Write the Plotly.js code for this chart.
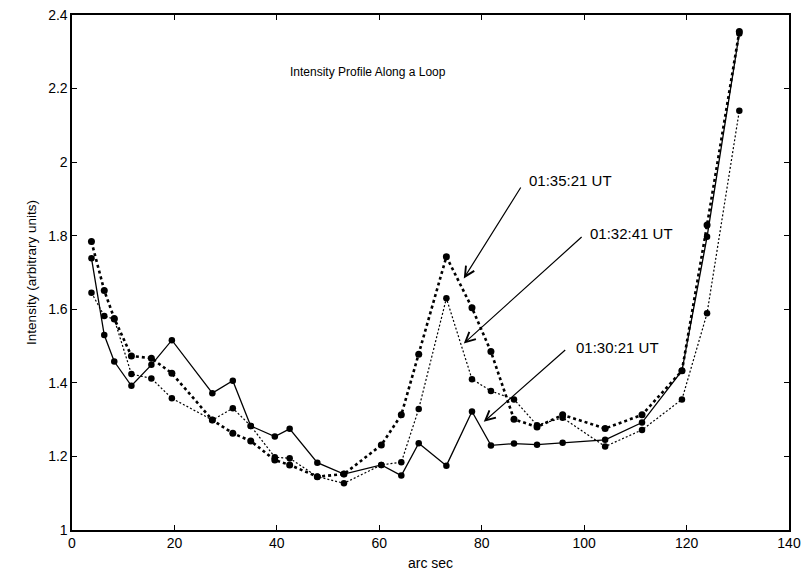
<!DOCTYPE html>
<html>
<head>
<meta charset="utf-8">
<script src="https://cdn.plot.ly/plotly-3.0.1.min.js"></script>
<style>html,body{margin:0;padding:0;background:#fff;}#chart{width:801px;height:579px;}</style>
</head>
<body>
<div id="chart"></div>
<script>
// arc-sec positions of samples
var arcSec = [3.8, 6.3, 8.25, 11.6, 15.5, 19.5, 27.4, 31.4, 34.9, 39.6, 42.5, 47.9, 53.1, 60.4, 64.3, 67.7, 73.1, 78.1, 81.8, 86.3, 90.8, 95.8, 104.1, 111.3, 119.1, 124.0, 130.3];
// 01:30:21 UT (solid)
var ut013021 = [1.739, 1.530, 1.458, 1.392, 1.449, 1.516, 1.372, 1.406, 1.283, 1.254, 1.275, 1.183, 1.152, 1.177, 1.148, 1.236, 1.175, 1.322, 1.230, 1.235, 1.232, 1.237, 1.245, 1.292, 1.433, 1.797, 2.350];
// 01:32:41 UT (fine dotted)
var ut013241 = [1.645, 1.582, 1.573, 1.424, 1.412, 1.358, 1.299, 1.331, 1.283, 1.198, 1.195, 1.145, 1.127, 1.177, 1.184, 1.329, 1.630, 1.410, 1.378, 1.355, 1.285, 1.305, 1.227, 1.272, 1.355, 1.589, 2.140];
// 01:35:21 UT (heavy dotted)
var ut013521 = [1.784, 1.651, 1.575, 1.473, 1.467, 1.426, 1.299, 1.263, 1.242, 1.190, 1.177, 1.145, 1.152, 1.231, 1.313, 1.478, 1.743, 1.604, 1.485, 1.301, 1.280, 1.313, 1.276, 1.313, 1.433, 1.829, 2.355];

var xTicks = [0, 20, 40, 60, 80, 100, 120, 140];
var yTicks = [1, 1.2, 1.4, 1.6, 1.8, 2, 2.2, 2.4];
var yTickText = ['1', '1.2', '1.4', '1.6', '1.8', '2', '2.2', '2.4'];

var labels = ['01:35:21 UT', '01:32:41 UT', '01:30:21 UT'];
// arrow head (x,y), tail (x,y), label left (x,y)
var arrowHeadX = [76.5, 76.5, 80.4];
var arrowHeadY = [1.684, 1.507, 1.294];
var arrowTailX = [87.8, 99.8, 96.6];
var arrowTailY = [1.935, 1.800, 1.493];
var labelX = [88.8, 100.8, 98.0];
var labelY = [1.950, 1.807, 1.497];

var FONT = 'Liberation Sans, Arial, Helvetica, sans-serif';

var traces = [
  {x: arcSec, y: ut013021, mode: 'lines+markers', name: '01:30:21 UT',
   line: {color: '#000', width: 1.3}, marker: {color: '#000', size: 6.5}},
  {x: arcSec, y: ut013241, mode: 'lines+markers', name: '01:32:41 UT',
   line: {color: '#000', width: 1.2, dash: '2px,2px'}, marker: {color: '#000', size: 6.5}},
  {x: arcSec, y: ut013521, mode: 'lines+markers', name: '01:35:21 UT',
   line: {color: '#000', width: 2.6, dash: '3px,3px'}, marker: {color: '#000', size: 7}}
];

var annotations = [{
  xref: 'x', yref: 'y', x: 57.8, y: 2.245, text: 'Intensity Profile Along a Loop',
  showarrow: false, font: {family: FONT, size: 12, color: '#000'}
}];
for (var i = 0; i < labels.length; i++) {
  annotations.push({
    xref: 'x', yref: 'y', axref: 'x', ayref: 'y',
    x: arrowHeadX[i], y: arrowHeadY[i], ax: arrowTailX[i], ay: arrowTailY[i],
    text: '', showarrow: true, arrowhead: 5, arrowsize: 1.6, arrowwidth: 1.2, arrowcolor: '#000', standoff: 0, startstandoff: 0
  });
  annotations.push({
    xref: 'x', yref: 'y', x: labelX[i], y: labelY[i], text: labels[i],
    xanchor: 'left', yanchor: 'middle', showarrow: false,
    font: {family: FONT, size: 15, color: '#000'}
  });
}

var layout = {
  width: 801, height: 579,
  margin: {l: 72, r: 12, t: 15, b: 49, pad: 0},
  paper_bgcolor: '#fff', plot_bgcolor: '#fff',
  showlegend: false,
  font: {family: FONT, size: 14, color: '#000'},
  xaxis: {
    range: [0, 140], tickvals: xTicks, ticks: 'inside', ticklen: 5, tickwidth: 1.2, tickcolor: '#000',
    showline: true, linecolor: '#000', linewidth: 1.6, mirror: 'ticks', showgrid: false, zeroline: false,
    tickfont: {family: FONT, size: 14, color: '#000'},
    title: {text: 'arc sec', font: {family: FONT, size: 14, color: '#000'}, standoff: 8}
  },
  yaxis: {
    range: [1, 2.4], tickvals: yTicks, ticktext: yTickText, ticks: 'inside', ticklen: 5, tickwidth: 1.2, tickcolor: '#000',
    showline: true, linecolor: '#000', linewidth: 1.6, mirror: 'ticks', showgrid: false, zeroline: false,
    tickfont: {family: FONT, size: 14, color: '#000'},
    title: {text: 'Intensity (arbitrary units)', font: {family: FONT, size: 13.5, color: '#000'}, standoff: 8}
  },
  annotations: annotations
};

Plotly.newPlot('chart', traces, layout, {displayModeBar: false, staticPlot: true});
</script>
</body>
</html>
